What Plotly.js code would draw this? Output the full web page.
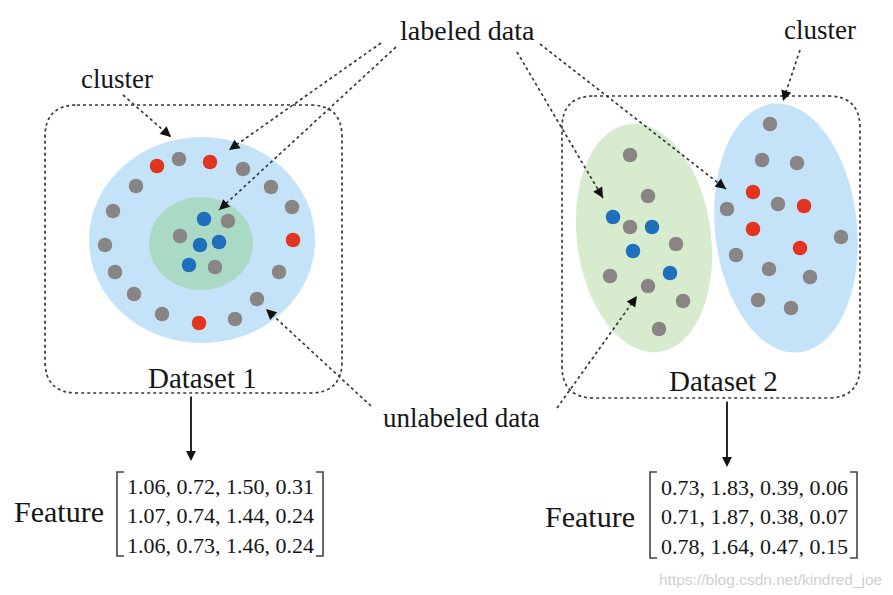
<!DOCTYPE html>
<html>
<head>
<meta charset="utf-8">
<script src="https://cdn.plot.ly/plotly-3.0.1.min.js"></script>
<style>html,body{margin:0;padding:0;background:#fff;}#chart{width:893px;height:595px;}</style>
</head>
<body>
<div id="chart"></div>
<script>
// ---------------- data ----------------
// point kinds: u = unlabeled (gray), r = labeled (red), b = labeled (blue)
const ds1X = [157,179,210,243,136,271,113,292,105,293,115,279,134,257,162,199,235, 204,228,180,200,219,189,215];
const ds1Y = [166,159,162,169,186,187,211,207,245,240,272,272,294,299,314,323,319, 219,221,236,245,242,265,267];
const ds1K = ['r','u','r','u','u','u','u','u','u','r','u','u','u','u','u','r','u', 'b','u','u','b','b','b','u'];

const ds2X = [630,648,613,630,652,633,676,610,648,670,683,659, 770,762,797,753,727,778,804,753,841,800,736,769,810,758,791];
const ds2Y = [155,196,217,227,227,251,244,276,286,273,301,329, 124,160,163,192,209,204,206,229,237,248,255,269,277,300,308];
const ds2K = ['u','u','b','u','b','b','u','u','u','b','u','u', 'u','u','u','r','u','u','r','r','u','r','u','u','u','u','u'];

const kindColors = {u:'#8a8585', r:'#e2351f', b:'#1f6fbd'};

const datasetNames = ['Dataset 1','Dataset 2'];
const feat1Rows = [[1.06,0.72,1.50,0.31],[1.07,0.74,1.44,0.24],[1.06,0.73,1.46,0.24]];
const feat2Rows = [[0.73,1.83,0.39,0.06],[0.71,1.87,0.38,0.07],[0.78,1.64,0.47,0.15]];
const featureLabel = 'Feature';
const labelTexts = {labeled:'labeled data', unlabeled:'unlabeled data', cluster:'cluster'};
const watermark = 'https://blog.csdn.net/kindred_joe';

// ---------------- helpers ----------------
const serif = 'Liberation Serif, Times New Roman, serif';
const lineCol = '#3a3a3a';

function roundRect(x0,y0,x1,y1,r){
  return `M ${x0+r},${y0} L ${x1-r},${y0} Q ${x1},${y0} ${x1},${y0+r} L ${x1},${y1-r} Q ${x1},${y1} ${x1-r},${y1} L ${x0+r},${y1} Q ${x0},${y1} ${x0},${y1-r} L ${x0},${y0+r} Q ${x0},${y0} ${x0+r},${y0} Z`;
}
function ellipsePath(cx,cy,a,b,tiltDeg){
  const th = tiltDeg*Math.PI/180, n=90; let p='';
  for(let i=0;i<=n;i++){
    const t=2*Math.PI*i/n;
    const x = cx + b*Math.cos(t)*Math.cos(th) + a*Math.sin(t)*Math.sin(th);
    const y = cy - b*Math.cos(t)*Math.sin(th) + a*Math.sin(t)*Math.cos(th);
    p += (i===0?'M ':' L ')+x.toFixed(1)+','+y.toFixed(1);
  }
  return p+' Z';
}

const shapes = [];
const annotations = [];

// cluster regions
shapes.push({type:'circle', xref:'x', yref:'y', x0:89, x1:315, y0:137, y1:343, fillcolor:'#c5e3f8', line:{width:0}, layer:'below'});
shapes.push({type:'circle', xref:'x', yref:'y', x0:149, x1:253, y0:197, y1:290, fillcolor:'#aad9c6', line:{width:0}, layer:'below'});
shapes.push({type:'path', path:ellipsePath(644,238,115,67,7.5), fillcolor:'#d7eccf', line:{width:0}, layer:'below'});
shapes.push({type:'path', path:ellipsePath(786,228,125,71,6), fillcolor:'#c5e3f8', line:{width:0}, layer:'below'});

// dataset boxes
shapes.push({type:'path', path:roundRect(45,105,342,393,32), line:{color:lineCol, width:1.7, dash:'dot'}, layer:'above'});
shapes.push({type:'path', path:roundRect(562,96,860,398,32), line:{color:lineCol, width:1.7, dash:'dot'}, layer:'above'});

// dotted pointer arrows: [x0,y0,x1,y1]
const dottedArrows = [
  [123,95,171,137],     // cluster (left)
  [381,43,229,150],     // labeled -> red ring dot
  [396,47,219,210],     // labeled -> inner blue
  [517,52,603,198],     // labeled -> green cluster blue
  [540,44,726,189],     // labeled -> blue cluster red
  [800,50,783,101],     // cluster (right)
  [371,406,266,309],    // unlabeled -> ring gray
  [557,408,637,296]     // unlabeled -> green cluster gray
];
dottedArrows.forEach(([x0,y0,x1,y1])=>{
  shapes.push({type:'line', x0:x0, y0:y0, x1:x1, y1:y1, line:{color:lineCol, width:1.7, dash:'dot'}, layer:'above'});
  const L = Math.hypot(x1-x0,y1-y0), k = 9/L;
  annotations.push({x:x1, y:y1, ax:x1-(x1-x0)*k, ay:y1-(y1-y0)*k, xref:'x', yref:'y', axref:'x', ayref:'y',
    text:'', showarrow:true, arrowhead:2, arrowsize:1.3, arrowwidth:1.6, arrowcolor:'#111'});
});

// solid down arrows
[[191,395,191,461],[727,400,727,467]].forEach(([x0,y0,x1,y1])=>{
  annotations.push({x:x1, y:y1, ax:x0, ay:y0, xref:'x', yref:'y', axref:'x', ayref:'y',
    text:'', showarrow:true, arrowhead:2, arrowsize:1.1, arrowwidth:1.8, arrowcolor:'#111'});
});

// text labels
function label(text,x,y,size,anchor){
  annotations.push({x:x, y:y, xref:'x', yref:'y', text:text, showarrow:false, xanchor:anchor||'center', yanchor:'middle',
    font:{family:serif, size:size, color:'#161616'}});
}
label(labelTexts.labeled, 467, 30, 28);
label(labelTexts.cluster, 117, 79, 27);
label(labelTexts.cluster, 820, 30, 27);
label(labelTexts.unlabeled, 461, 418, 27);
label(datasetNames[0], 202, 378, 29);
label(datasetNames[1], 723, 381, 29);
label(featureLabel, 59, 511, 30);
label(featureLabel, 590, 516, 30);

// matrices
function matrix(rows, cx, yTop, xl, xr, yb0, yb1){
  rows.forEach((r,i)=>{
    label(r.map(v=>v.toFixed(2)).join(', '), cx, yTop + i*29.8, 22);
  });
  shapes.push({type:'path', path:`M ${xl+7},${yb0} L ${xl},${yb0} L ${xl},${yb1} L ${xl+7},${yb1}`, line:{color:'#444', width:1.6}});
  shapes.push({type:'path', path:`M ${xr-7},${yb0} L ${xr},${yb0} L ${xr},${yb1} L ${xr-7},${yb1}`, line:{color:'#444', width:1.6}});
}
matrix(feat1Rows, 220, 486, 117, 323, 472, 556);
matrix(feat2Rows, 754, 487, 650, 857, 472, 558);

annotations.push({x:884, y:579, xref:'x', yref:'y', text:watermark, showarrow:false, xanchor:'right', yanchor:'middle',
  font:{family:'Liberation Sans, Arial, sans-serif', size:15.5, color:'#d0d0d0'}});

// ---------------- traces ----------------
function dotTrace(xs,ys,ks){
  return {type:'scatter', mode:'markers', x:xs, y:ys, hoverinfo:'skip',
    marker:{size:14.5, color:ks.map(k=>kindColors[k]), line:{width:0}}};
}
const data = [dotTrace(ds1X,ds1Y,ds1K), dotTrace(ds2X,ds2Y,ds2K)];

const layout = {
  width:893, height:595, margin:{l:0,r:0,t:0,b:0},
  paper_bgcolor:'#ffffff', plot_bgcolor:'#ffffff', showlegend:false,
  xaxis:{range:[0,893], visible:false, fixedrange:true},
  yaxis:{range:[595,0], visible:false, fixedrange:true},
  shapes:shapes, annotations:annotations
};
Plotly.newPlot('chart', data, layout, {displayModeBar:false, staticPlot:true});
</script>
</body>
</html>
